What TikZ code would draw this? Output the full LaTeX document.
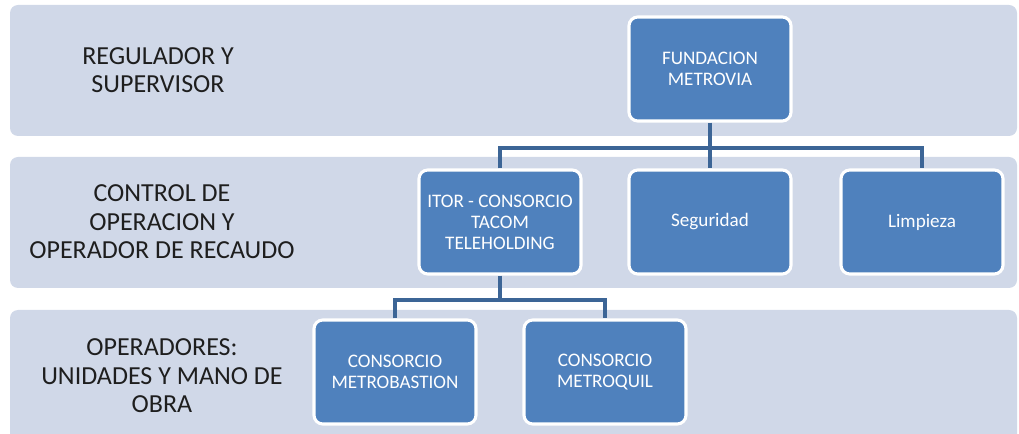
\documentclass[tikz,border=0pt]{standalone}
\usepackage{fontspec}
\setmainfont{Carlito}
\usepackage{xcolor}
\definecolor{bandColor}{RGB}{208, 216, 232}
\definecolor{unitColor}{RGB}{79, 129, 189}
\definecolor{linkColor}{RGB}{60, 101, 150}
\definecolor{labelColor}{RGB}{30, 30, 30}

\tikzset{
  bandStyle/.style={fill=bandColor, rounded corners=0.2cm},
  unitBox/.style={draw=white, line width=2.2pt, fill=unitColor, rounded corners=0.22cm, minimum width=4.05cm, minimum height=2.6cm, align=center, text=white, font=\fontsize{13.6}{15}\selectfont},
  levelLabel/.style={align=center, text=labelColor, font=\fontsize{18.5}{20.2}\selectfont},
  linkLine/.style={draw=linkColor, line width=2.8pt}
}

\begin{document}
\begin{tikzpicture}
                \clip (0,0) rectangle (25.475,10.85);
                % levels
                \fill[bandStyle] (0.25,7.45) rectangle (25.425,10.725);
                \fill[bandStyle] (0.25,3.65) rectangle (25.425,6.925);
                \fill[bandStyle] (0.25,-0.5) rectangle (25.425,3.1);
                \node[levelLabel] (regLabel) at (3.95,9.1) {REGULADOR Y\\SUPERVISOR};
                \node[levelLabel] (ctrlLabel) at (4.05,5.3) {CONTROL DE\\OPERACION Y\\OPERADOR DE RECAUDO};
                \node[levelLabel] (opLabel) at (4.05,1.45) {OPERADORES:\\UNIDADES Y MANO DE\\OBRA};
                % units
                \node[unitBox] (fundacion) at (17.75,9.125) {FUNDACION\\METROVIA};
                \node[unitBox] (itor) at (12.5,5.3) {ITOR - CONSORCIO\\TACOM\\TELEHOLDING};
                \node[unitBox] (seguridad) at (17.75,5.3) {Seguridad};
                \node[unitBox] (limpieza) at (23.05,5.3) {Limpieza};
                \node[unitBox] (metrobastion) at (9.875,1.55) {CONSORCIO\\METROBASTION};
                \node[unitBox] (metroquil) at (15.125,1.55) {CONSORCIO\\METROQUIL};
                % links
                \draw[linkLine] (fundacion.south) -- ++(0,-0.625) coordinate (topBus);
                \draw[linkLine] (itor.north) |- (topBus) -| (limpieza.north);
                \draw[linkLine] (topBus) -- (seguridad.north);
                \draw[linkLine] (itor.south) -- ++(0,-0.6) coordinate (lowBus);
                \draw[linkLine] (metrobastion.north) |- (lowBus) -| (metroquil.north);
            \end{tikzpicture}
\end{document}
